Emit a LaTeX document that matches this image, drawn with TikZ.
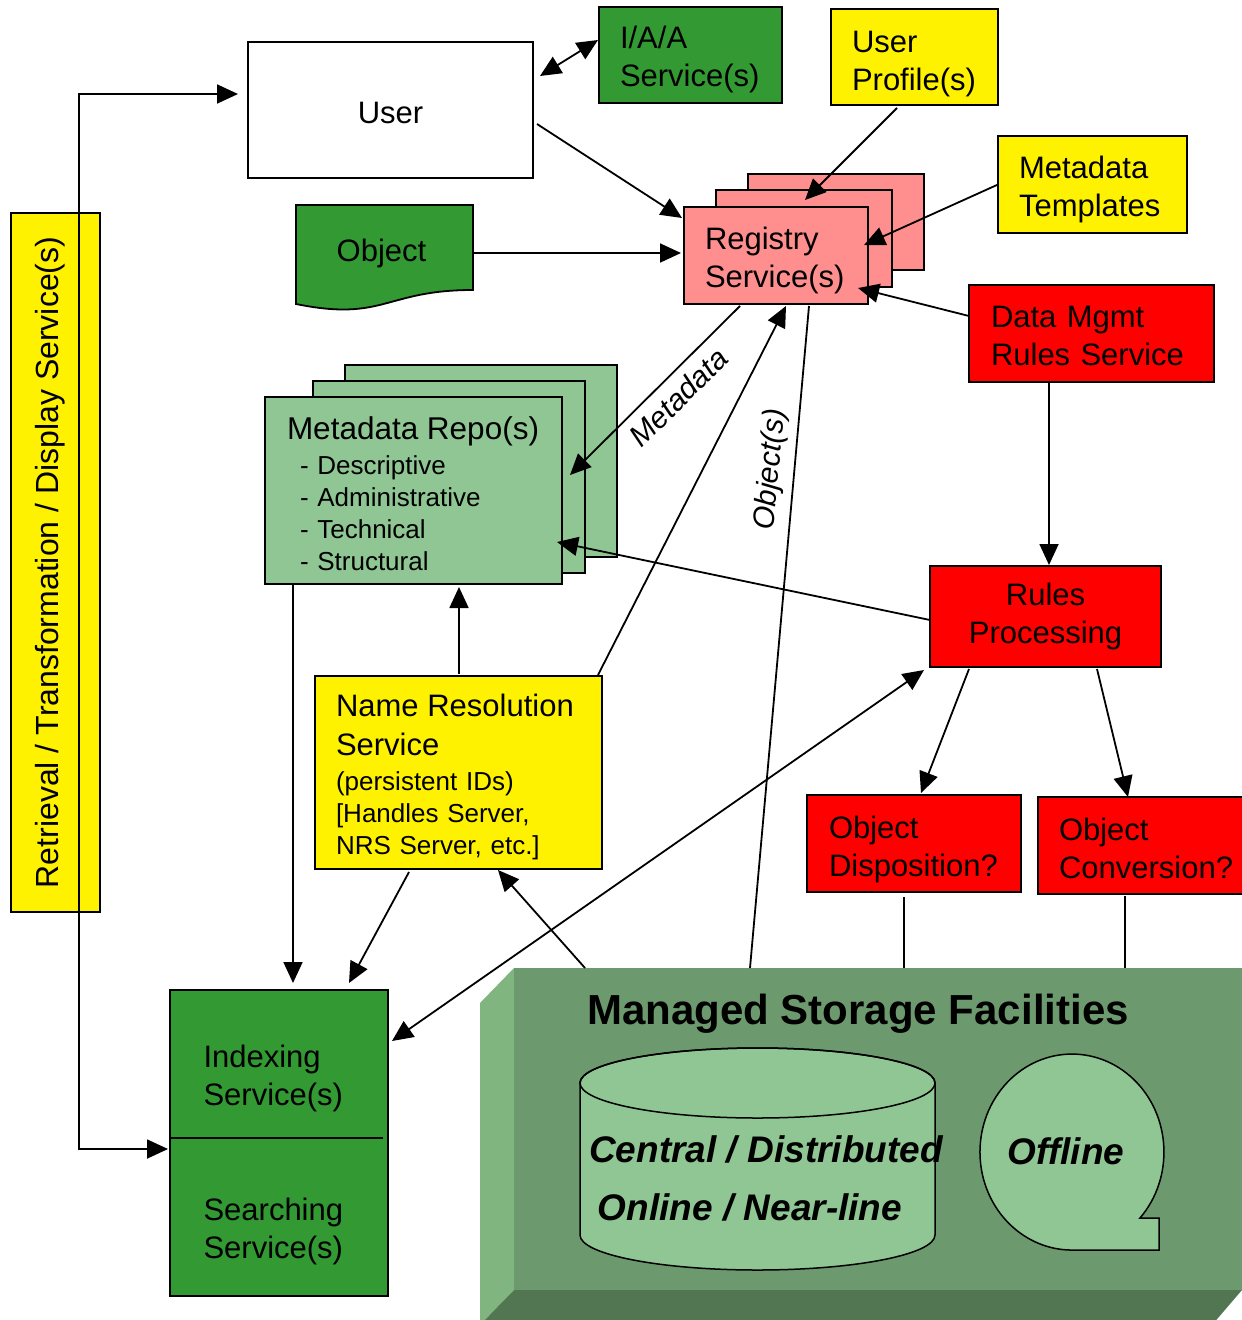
\documentclass[tikz,border=0pt]{standalone}
\usepackage{fontspec}
\setmainfont{Liberation Sans}
\usetikzlibrary{arrows.meta,calc}
\definecolor{dgreen}{RGB}{51,153,51}
\definecolor{lgreen}{RGB}{143,198,147}
\definecolor{pinkr}{RGB}{255,143,143}
\definecolor{sfront}{RGB}{108,154,110}
\definecolor{sleft}{RGB}{128,181,128}
\definecolor{sbottom}{RGB}{82,117,82}
\newcommand\tallstrut[1]{\rule{0pt}{#1pt}}
\begin{document}
\begin{tikzpicture}[x=1pt,y=-1pt,
 box/.style={draw=black, line width=1.8pt, rectangle, anchor=north west, inner sep=0pt, outer sep=0pt},
 lbl/.style={font=\fontsize{31}{38}\selectfont},
 sml/.style={font=\fontsize{26}{32}\selectfont},
 arr/.style={line width=1.8pt, -{Triangle[length=21pt,width=19pt]}},
 darr/.style={line width=1.8pt, {Triangle[length=21pt,width=19pt]}-{Triangle[length=21pt,width=19pt]}},
 ln/.style={line width=1.8pt},
 edgelbl/.style={font=\itshape\fontsize{30}{32}\selectfont},
 stor/.style={font=\bfseries\itshape\fontsize{37}{44}\selectfont},
]
\useasboundingbox (0,0) rectangle (1242,1320);
\clip (0,0) rectangle (1242,1320);

% ---------- storage facility ----------
\fill[sleft] (514,968) -- (480,1003) -- (480,1325) -- (514,1290) -- cycle;
\fill[sbottom] (514,1290) -- (1242,1290) -- (1212,1325) -- (480,1325) -- cycle;
\node[fill=sfront, anchor=north west, minimum width=728pt, minimum height=322pt, inner sep=0pt, outer sep=0pt] (storage) at (514,968) {};
\node[font=\bfseries\fontsize{42}{50}\selectfont] (msf) at (858,1014) {Managed Storage Facilities};
\draw[fill=lgreen, line width=1.5pt] (580,1083) -- (580,1235) arc[start angle=180, end angle=0, x radius=177.5, y radius=35] -- (935,1083) arc[start angle=0, end angle=-180, x radius=177.5, y radius=35] -- cycle;
\draw[line width=1.5pt] (757.5,1083) ellipse [x radius=177.5, y radius=35];
\node[stor] (cdist) at (766,1149) {Central / Distributed};
\node[stor] (onl) at (750,1207) {Online / Near-line};
\draw[fill=lgreen, line width=1.5pt] (1072,1250) -- (1159,1250) -- (1159,1218) -- (1140,1218) arc[start angle=42.3, end angle=-270, x radius=92, y radius=98] -- cycle;
\node[stor] (offl) at (1066,1151) {Offline};

% ---------- boxes ----------
\node[box, fill=white, minimum width=285pt, minimum height=136pt, lbl] (user) at (248,42) {\tallstrut{26.6}User};
\node[box, fill=dgreen, text width=141pt, inner xsep=21pt, minimum height=96pt, align=left, lbl] (iaa) at (599,7) {\tallstrut{30.7}I/A/A\\Service(s)};
\node[box, fill=yellow, text width=125pt, inner xsep=21pt, minimum height=96pt, align=left, lbl] (uprof) at (831,9) {\tallstrut{34.7}User\\Profile(s)};
\node[box, fill=yellow, text width=147pt, inner xsep=21pt, minimum height=97pt, align=left, lbl] (mtpl) at (998,136) {\tallstrut{32.7}Metadata\\Templates};

\node[box, fill=pinkr, minimum width=176pt, minimum height=96pt] (reg3) at (748,174) {};
\node[box, fill=pinkr, minimum width=176pt, minimum height=97pt] (reg2) at (716,190) {};
\node[box, fill=pinkr, text width=142pt, inner xsep=21pt, minimum height=97pt, align=left, lbl] (reg) at (684,207) {\tallstrut{32.7}Registry\\Service(s)};

\path[draw=black, fill=dgreen, line width=1.8pt] (296,205) -- (473,205) -- (473,290) .. controls (384.5,290) and (384.5,322) .. (296,304) -- cycle;
\node[anchor=north west, minimum width=171pt, minimum height=97pt, inner sep=0pt, outer sep=0pt, lbl] (obj) at (296,205) {Object};

\node[box, fill=red, text width=201pt, inner xsep=22pt, minimum height=97pt, align=left, lbl] (dmr) at (969,285) {\tallstrut{26.7}Data Mgmt\\Rules Service};

\node[box, fill=lgreen, minimum width=272pt, minimum height=192pt] (mrepo3) at (345,365) {};
\node[box, fill=lgreen, minimum width=272pt, minimum height=192pt] (mrepo2) at (313,381) {};
\node[box, fill=lgreen, text width=253pt, inner xsep=22pt, minimum height=187pt, align=left, sml] (mrepo) at (265,397) {{\fontsize{31.5}{32}\selectfont\tallstrut{28.7}Metadata Repo(s)}\\[3pt]\hspace*{13pt}- Descriptive\\\hspace*{13pt}- Administrative\\\hspace*{13pt}- Technical\\\hspace*{13pt}- Structural};

\node[box, fill=red, minimum width=231pt, minimum height=101pt, align=center, lbl] (rules) at (930,566) {Rules\\Processing};
\node[box, fill=red, text width=170pt, inner xsep=22pt, minimum height=97pt, align=left, lbl] (odisp) at (807,795) {\tallstrut{34.7}Object\\Disposition?};
\node[box, fill=red, text width=165pt, inner xsep=21pt, minimum height=97pt, align=left, lbl] (oconv) at (1038,797) {\tallstrut{28.7}Object\\Conversion?};

\node[box, fill=yellow, text width=245pt, inner xsep=21pt, minimum height=193pt, align=left, sml] (nrs) at (315,676) {{\fontsize{31}{32}\selectfont\tallstrut{30.7}Name Resolution\\[7pt]Service}\\[3pt](persistent IDs)\\\relax [Handles Server,\\NRS Server, etc.]};

\node[box, fill=yellow, anchor=center, rotate=90, minimum width=699pt, minimum height=89pt, font=\fontsize{32}{38}\selectfont, text height=14pt, text depth=8pt] (rtd) at (55.5,562.5) {Retrieval / Transformation / Display Service(s)};

\node[box, fill=dgreen, minimum width=218pt, minimum height=306pt] (index) at (170,990) {};
\draw[ln] ($(index.west)+(0,-5)$) -- ($(index.east)+(-5,-5)$);
\node[lbl, anchor=west, align=left] (idxt) at (200,1078) {Indexing\\Service(s)};
\node[lbl, anchor=west, align=left] (srcht) at (200,1231) {Searching\\Service(s)};

% ---------- connectors ----------
\coordinate (rtdx) at ($(rtd.center)+(23.5,0)$);
\draw[darr] ($(user.west)+(-10,-16)$) -| (rtdx) |- ($(index.west)+(-2,6)$);
\draw[darr] ($(user.east)+(7,-34)$) -- ($(iaa.west)+(-1,-15)$);
\draw[arr] ($(user.east)+(4,14)$) -- ($(reg.north west)+(-2,11)$);
\draw[arr] ($(obj.east)+(6,-0.5)$) -- ($(reg.west)+(-3,-2.5)$);
\draw[arr] ($(uprof.south)+(-17.5,3)$) -- ($(reg2.north)+(1,10)$);
\draw[arr] (mtpl.west) -- ($(reg.east)+(-4,-10.5)$);
\draw[arr] ($(dmr.west)+(0,-17.5)$) -- ($(reg.south east)+(-10,-16)$);
\draw[arr] ($(reg.south)+(-36,2)$) -- node[sloped, below=6pt, pos=0.45, edgelbl] (mdl) {Metadata} ($(mrepo.east)+(8,-15.5)$);
\draw[arr] ($(nrs.north east)+(-4,-1)$) -- ($(reg.south)+(10,2)$);
\draw[ln] ($(reg.south)+(33,2)$) -- node[sloped, above=5pt, pos=0.25, edgelbl] (objl) {Object(s)} ($(storage.north west)+(236,0)$);
\draw[arr] ($(dmr.south)+(-42.5,1)$) -- ($(rules.north)+(3.5,-1)$);
\draw[arr] ($(rules.west)+(0,3.5)$) -- ($(mrepo.east)+(-5,51.5)$);
\draw[arr] ($(rules.south west)+(39,2)$) -- ($(odisp.north)+(7,-2)$);
\draw[arr] ($(rules.south east)+(-64,2)$) -- ($(oconv.north west)+(90,0)$);
\draw[darr] ($(index.north east)+(4,51)$) -- ($(rules.south west)+(-6,3)$);
\draw[arr] ($(mrepo.south west)+(28,0)$) -- ($(index.north west)+(123,-7)$);
\draw[arr] ($(nrs.south west)+(94,3)$) -- ($(index.north west)+(179,-7)$);
\draw[arr] ($(storage.north west)+(71,0)$) -- ($(nrs.south west)+(183,1)$);
\draw[arr] ($(nrs.north west)+(144,-2)$) -- ($(mrepo.south west)+(194,3)$);
\draw[ln] ($(odisp.south)+(-10,5)$) -- ($(storage.north west)+(390,0)$);
\draw[ln] ($(oconv.south)+(-16.5,2)$) -- ($(storage.north west)+(611,0)$);
\end{tikzpicture}
\end{document}
